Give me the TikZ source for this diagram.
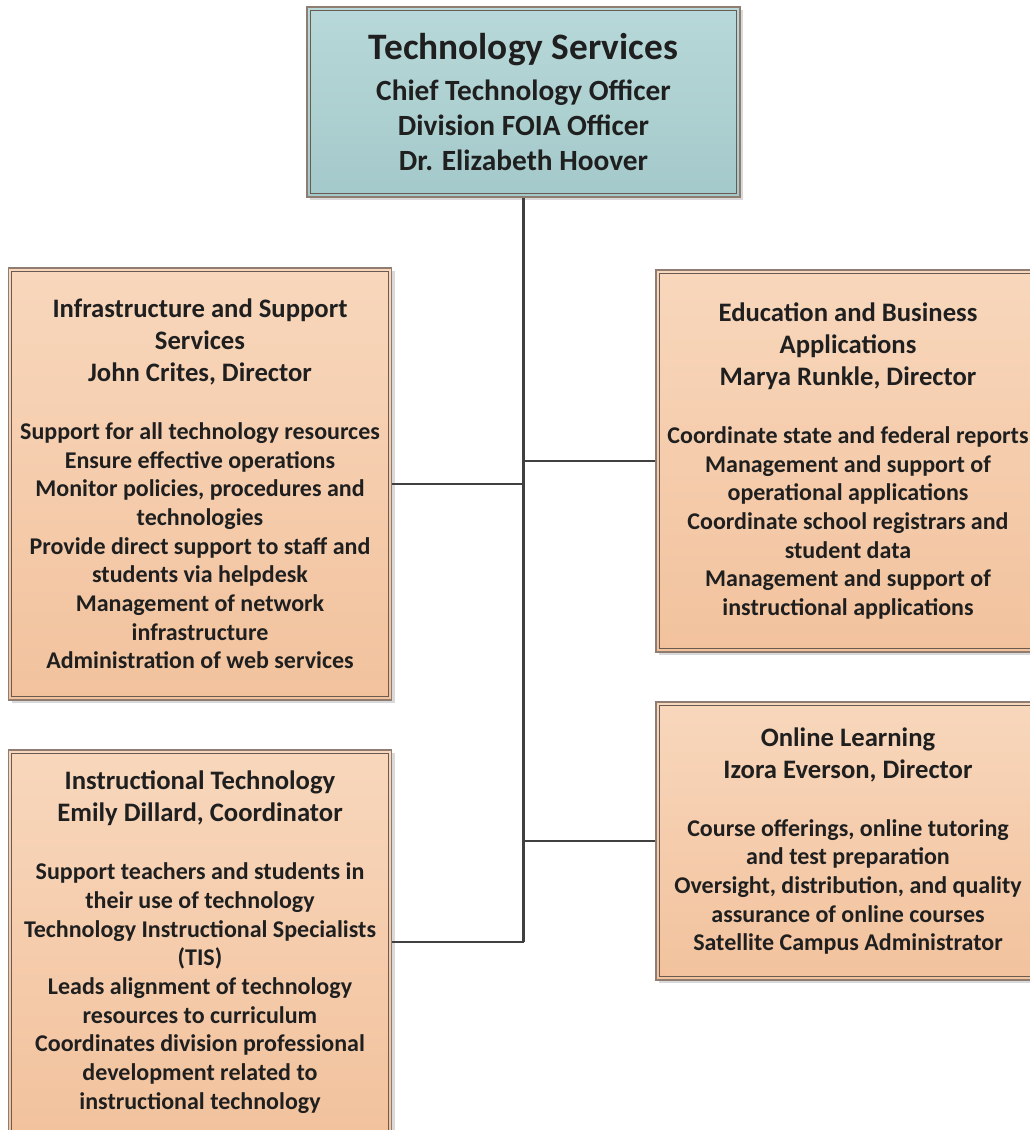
\documentclass[tikz,border=0pt]{standalone}
\usepackage{fontspec}
\setmainfont{Carlito}
\usetikzlibrary{shadows}
\definecolor{peachtop}{HTML}{F8D7BC}
\definecolor{peachbot}{HTML}{F2C29D}
\definecolor{tealtop}{HTML}{B8D8D9}
\definecolor{tealbot}{HTML}{A4C9CA}
\definecolor{rimout}{HTML}{8E7D70}
\definecolor{riminn}{HTML}{6A5B52}
\definecolor{wire}{HTML}{404040}
\tikzset{
  unitbox/.style={draw=rimout,line width=1.2pt,top color=peachtop,bottom color=peachbot,
    drop shadow={shadow xshift=2.5pt,shadow yshift=-2.5pt,fill=black!15,opacity=1},
    align=center,inner sep=0pt,minimum width=383*0.75pt,minimum height=#1*0.75pt,
    font=\fontsize{18}{21.5}\selectfont\bfseries,text=black!88},
  headbox/.style={unitbox=#1,top color=tealtop,bottom color=tealbot,
    font=\fontsize{22}{26.25}\selectfont\bfseries},
  innerrim/.style={draw=riminn,line width=0.8pt},
  branch/.style={draw=wire,line width=1.9pt}
}
\newcommand{\hd}[1]{{\fontsize{20}{24}\selectfont #1}}
\begin{document}
\begin{tikzpicture}[x=0.75pt,y=-0.75pt]
\useasboundingbox (0,0) rectangle (1030,1130);
% chief officer
\node[headbox=190,minimum width=433*0.75pt] (cto) at (523.5,102)
  {{\fontsize{28}{30}\selectfont Technology Services}\\[4.5pt]
   Chief Technology Officer\\ Division FOIA Officer\\ Dr. Elizabeth Hoover};
% left column
\node[unitbox=432] (infra) at (200,484)
  {\hd{Infrastructure and Support}\\[2.5pt] \hd{Services}\\[2.5pt] \hd{John Crites, Director}\\[22pt]
   Support for all technology resources\\ Ensure effective operations\\
   Monitor policies, procedures and\\ technologies\\
   Provide direct support to staff and\\ students via helpdesk\\
   Management of network\\ infrastructure\\ Administration of web services};
\node[unitbox=384] (instr) at (200,942)
  {\hd{Instructional Technology}\\[2.5pt] \hd{Emily Dillard, Coordinator}\\[22pt]
   Support teachers and students in\\ their use of technology\\
   Technology Instructional Specialists\\ (TIS)\\
   Leads alignment of technology\\ resources to curriculum\\
   Coordinates division professional\\ development related to\\ instructional technology};
% right column
\node[unitbox=382,minimum width=384*0.75pt] (edbiz) at (848,461)
  {\hd{Education and Business}\\[2.5pt] \hd{Applications}\\[2.5pt] \hd{Marya Runkle, Director}\\[22pt]
   Coordinate state and federal reports\\ Management and support of\\
   operational applications\\ Coordinate school registrars and\\ student data\\
   Management and support of\\ instructional applications};
\node[unitbox=278,minimum width=384*0.75pt] (online) at (848,841)
  {\hd{Online Learning}\\[2.5pt] \hd{Izora Everson, Director}\\[22pt]
   Course offerings, online tutoring\\ and test preparation\\
   Oversight, distribution, and quality\\ assurance of online courses\\
   Satellite Campus Administrator};
% inner rims
\foreach \n in {cto,infra,instr,edbiz,online}
  \draw[innerrim] ([shift={(4,4)}]\n.north west) rectangle ([shift={(-4,-4)}]\n.south east);
% connectors
\draw[branch] (cto.south) -- (cto.south |- instr.east);
\draw[branch] (infra.east) -- (infra.east -| cto.south);
\draw[branch] (instr.east) -- (instr.east -| cto.south);
\draw[branch] (edbiz.west) -- (edbiz.west -| cto.south);
\draw[branch] (online.west) -- (online.west -| cto.south);
\end{tikzpicture}
\end{document}
